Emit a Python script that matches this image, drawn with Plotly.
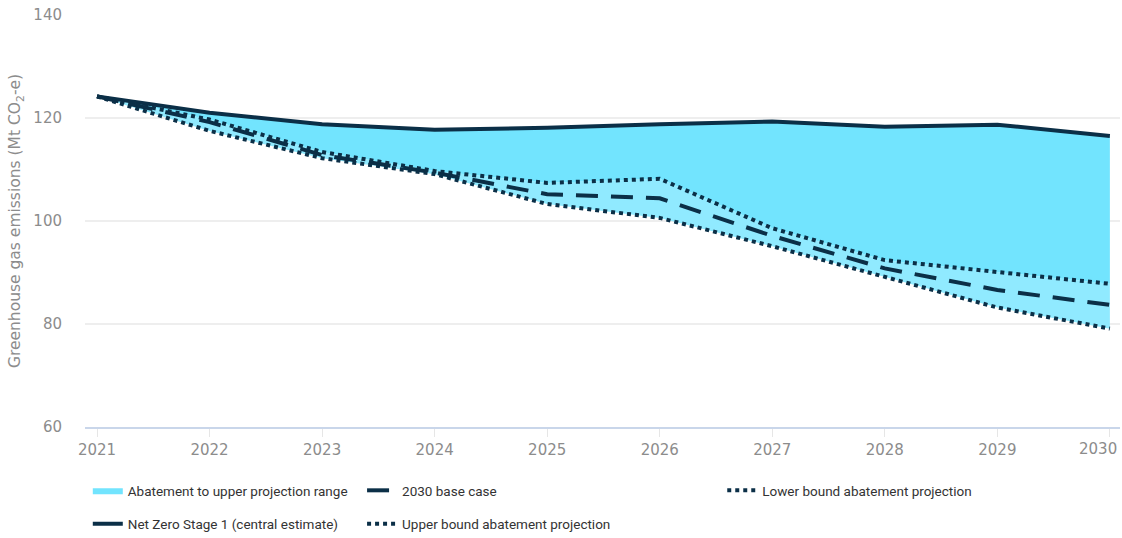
import plotly.graph_objects as go

years = [2021, 2022, 2023, 2024, 2025, 2026, 2027, 2028, 2029, 2030]
year_labels = ['2021', '2022', '2023', '2024', '2025', '2026', '2027', '2028', '2029', '2030']

net_zero = [124.2, 121.0, 118.8, 117.7, 118.1, 118.8, 119.3, 118.3, 118.7, 116.5]
base_case = [124.2, 119.2, 112.8, 109.4, 105.2, 104.4, 97.1, 90.8, 86.6, 83.7]
upper_bound = [124.2, 119.7, 113.4, 109.7, 107.4, 108.2, 98.6, 92.4, 90.1, 87.8]
lower_bound = [124.2, 117.5, 112.2, 109.1, 103.3, 100.6, 95.1, 89.1, 83.2, 79.1]

navy = '#0B2F47'
fill_dark = '#72E4FE'
fill_light = '#90EAFF'
grey = '#8C8C8C'
tick_font = dict(family='DejaVu Sans', color=grey, size=15)

# the last label is drawn separately, pulled left so it fits on the page
tick_text = year_labels[:-1] + ['']

fig = go.Figure()

# light band between the two projections
fig.add_trace(go.Scatter(x=years, y=lower_bound, mode='lines', line=dict(width=0),
                         showlegend=False, hoverinfo='skip'))
fig.add_trace(go.Scatter(x=years, y=upper_bound, mode='lines', line=dict(width=0),
                         fill='tonexty', fillcolor=fill_light,
                         showlegend=False, hoverinfo='skip'))

# abatement area between net zero and upper bound
fig.add_trace(go.Scatter(x=years, y=upper_bound, mode='lines', line=dict(width=0),
                         showlegend=False, hoverinfo='skip'))
fig.add_trace(go.Scatter(x=years, y=net_zero, mode='lines', line=dict(width=0),
                         fill='tonexty', fillcolor=fill_dark,
                         name='Abatement to upper projection range',
                         legend='legend', legendgroup='a'))

# lines
fig.add_trace(go.Scatter(x=years, y=base_case, mode='lines',
                         line=dict(color=navy, width=4, dash='22px,13px'),
                         name='2030 base case', legend='legend2', legendgroup='b'))
fig.add_trace(go.Scatter(x=years, y=lower_bound, mode='lines',
                         line=dict(color=navy, width=4, dash='4px,4px'),
                         name='Lower bound abatement projection', legend='legend3', legendgroup='c'))
fig.add_trace(go.Scatter(x=years, y=net_zero, mode='lines',
                         line=dict(color=navy, width=4),
                         name='Net Zero Stage 1 (central estimate)', legend='legend', legendgroup='d'))
fig.add_trace(go.Scatter(x=years, y=upper_bound, mode='lines',
                         line=dict(color=navy, width=4, dash='4px,4px'),
                         name='Upper bound abatement projection', legend='legend2', legendgroup='e'))

fig.add_annotation(x=years[-1], y=0, xref='x', yref='paper', text=year_labels[-1],
                   showarrow=False, xanchor='right', yanchor='middle',
                   xshift=9, yshift=-22, font=tick_font)

fig.update_xaxes(range=[2020.893, 2030.09], tickvals=years, ticktext=tick_text,
                 showgrid=False, showline=True, linecolor='#C9D6EA', linewidth=1.5,
                 ticks='outside', ticklen=8, tickcolor='#E6E6E6',
                 tickfont=tick_font, zeroline=False,
                 ticklabeloverflow='allow', automargin=False)
fig.update_yaxes(range=[60, 140], tickvals=[60, 80, 100, 120, 140],
                 gridcolor='#EEEEEE', gridwidth=1.5, zeroline=False,
                 tickfont=tick_font, ticklabelstandoff=22,
                 ticklabeloverflow='allow', automargin=False,
                 title=dict(text='Greenhouse gas emissions (Mt CO<sub>2</sub>-e)', standoff=8,
                            font=dict(family='DejaVu Sans', color=grey, size=15.5)))

leg = dict(orientation='v', yanchor='top', xanchor='left', y=-0.1166,
           font=dict(size=13.5, color='#333333'),
           tracegroupgap=13, bgcolor='rgba(0,0,0,0)')

fig.update_layout(
    width=1122, height=538,
    font=dict(family='Roboto, Arial, sans-serif'),
    plot_bgcolor='white', paper_bgcolor='white',
    margin=dict(l=85, r=2, t=15, b=111, autoexpand=False),
    legend=dict(leg, x=0.0027),
    legend2=dict(leg, x=0.2677),
    legend3=dict(leg, x=0.6157),
)

# drop the page's default body margin so the figure fills the window exactly
fig.write_html('out.html', config={'displayModeBar': False},
               post_script="document.body.style.margin='0';document.body.style.overflow='hidden';")
